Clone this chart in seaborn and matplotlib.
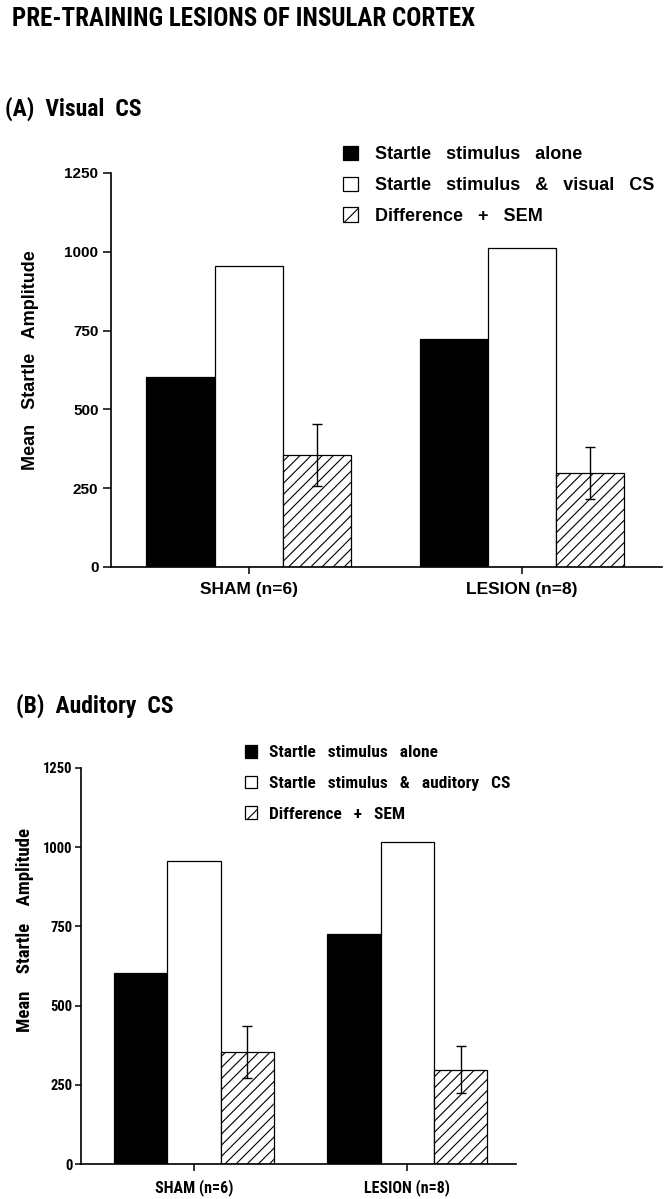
import numpy as np
import pandas as pd
import seaborn as sns
import matplotlib.pyplot as plt
from matplotlib import font_manager
from matplotlib.patches import Patch


# Values

groups = ["SHAM (n=6)", "LESION (n=8)"]
conditions = ["alone", "cs", "diff"]

visual_alone = [603, 723]
visual_cs = [955, 1012]
visual_diff = [355, 298]
visual_sem = [98, 82]

auditory_alone = [603, 726]
auditory_cs = [956, 1016]
auditory_diff = [354, 297]
auditory_sem = [82, 74]

yticks = [0, 250, 500, 750, 1000, 1250]

visual_labels = ["Startle   stimulus   alone", "Startle   stimulus   &   visual   CS",
                 "Difference   +   SEM"]
auditory_labels = ["Startle   stimulus   alone", "Startle   stimulus   &   auditory   CS",
                   "Difference   +   SEM"]


sns.set_style("ticks")
plt.rcParams["font.family"] = ["Liberation Sans", "DejaVu Sans"]
plt.rcParams["font.weight"] = "bold"
plt.rcParams["hatch.linewidth"] = 0.8
for k in ["text.color", "axes.labelcolor", "xtick.color", "ytick.color", "axes.edgecolor"]:
    plt.rcParams[k] = "black"

# a condensed face for the title, if one is installed
installed = {f.name for f in font_manager.fontManager.ttflist}
condensed = None
for name in ["Roboto Condensed", "Liberation Sans Narrow", "Open Sans Condensed"]:
    if name in installed:
        condensed = name
        break

WIDE = ["Liberation Sans", "DejaVu Sans"]
if condensed:
    NARROW = [condensed, "Liberation Sans", "DejaVu Sans"]
    title_size, panel_size = 18, 17
else:
    NARROW = WIDE
    title_size, panel_size = 15.5, 15

W, H = 671, 1199
fig = plt.figure(figsize=(W / 100, H / 100), dpi=100)


def draw_panel(rect, alone, cs, diff, sem, labels, xlim, family, legend_xy,
               ylab_xy, sizes, leg):
    ax = fig.add_axes(rect)
    df = pd.DataFrame({
        "group": groups * 3,
        "condition": np.repeat(conditions, len(groups)),
        "value": alone + cs + diff,
    })
    sns.barplot(data=df, x="group", y="value", hue="condition",
                order=groups, hue_order=conditions,
                palette={"alone": "black", "cs": "white", "diff": "white"},
                edgecolor="black", linewidth=0.9, width=0.75, saturation=1,
                errorbar=None, legend=False, ax=ax)
    for bar in ax.containers[2]:
        bar.set_hatch("///")
    xs = [b.get_x() + b.get_width() / 2 for b in ax.containers[2]]
    ax.errorbar(xs, diff, yerr=sem, fmt="none", ecolor="black",
                elinewidth=1.0, capsize=3.5, capthick=1.0, zorder=3)

    ax.set_xlim(*xlim)
    ax.set_ylim(0, 1250)
    ax.set_yticks(yticks)
    ax.set_yticklabels([str(t) for t in yticks], fontsize=sizes["tick"],
                       fontweight="bold", family=family)
    ax.set_xticks(range(len(groups)))
    ax.set_xticklabels(groups, fontsize=sizes["x"], fontweight="bold", family=family)
    ax.tick_params(axis="y", direction="out", length=sizes["ticklen"], width=1.1,
                   color="black", pad=sizes["tickpad"])
    ax.tick_params(axis="x", direction="out", length=5, width=1.1,
                   color="black", pad=6)
    sns.despine(ax=ax)
    for s in ["left", "bottom"]:
        ax.spines[s].set_linewidth(1.2)
    ax.set_xlabel("")
    ax.set_ylabel(sizes["ylabtext"], fontsize=sizes["ylab"],
                  fontweight="bold", family=family)
    ax.yaxis.set_label_coords(*ylab_xy)

    handles = [
        Patch(facecolor="black", edgecolor="black", linewidth=0.9),
        Patch(facecolor="white", edgecolor="black", linewidth=0.9),
        Patch(facecolor="white", edgecolor="black", linewidth=0.9, hatch="/"),
    ]
    fig.legend(handles, labels, loc="upper left",
               bbox_to_anchor=legend_xy, frameon=False, borderpad=0,
               borderaxespad=0, handlelength=leg["hl"], handleheight=leg["hh"],
               handletextpad=leg["pad"], labelspacing=leg["ls"],
               prop={"family": family, "weight": "bold", "size": sizes["legend"]})
    return ax


# Panel A
draw_panel([111 / W, 1 - 567 / H, 551 / W, 394 / H],
           visual_alone, visual_cs, visual_diff, visual_sem, visual_labels,
           (-0.505, 1.513), WIDE, (343 / W, 1 - 146 / H), (-0.131, 0.525),
           {"tick": 11, "x": 12.5, "ylab": 13, "legend": 13, "ticklen": 6,
            "tickpad": 3, "ylabtext": "Mean   Startle   Amplitude"},
           {"hl": 0.83, "hh": 0.83, "pad": 0.95, "ls": 0.74})

# Panel B
draw_panel([81 / W, 1 - 1164 / H, 435 / W, 396 / H],
           auditory_alone, auditory_cs, auditory_diff, auditory_sem, auditory_labels,
           (-0.53, 1.51), NARROW, (245 / W, 1 - 745 / H), (-0.108, 0.59),
           {"tick": 10.5, "x": 11.5, "ylab": 13.5, "legend": 12.5, "ticklen": 4,
            "tickpad": 2, "ylabtext": "Mean    Startle    Amplitude"},
           {"hl": 0.7, "hh": 0.75, "pad": 0.7, "ls": 0.88})

fig.text(12 / W, 1 - 19 / H, "PRE-TRAINING LESIONS OF INSULAR CORTEX",
         fontsize=title_size, fontweight="bold", family=NARROW, va="center")
fig.text(5 / W, 1 - 109 / H, "(A)  Visual  CS", fontsize=panel_size,
         fontweight="bold", family=NARROW, va="center")
fig.text(16 / W, 1 - 706 / H, "(B)  Auditory  CS", fontsize=panel_size,
         fontweight="bold", family=NARROW, va="center")

fig.savefig("out.png", dpi=100)
